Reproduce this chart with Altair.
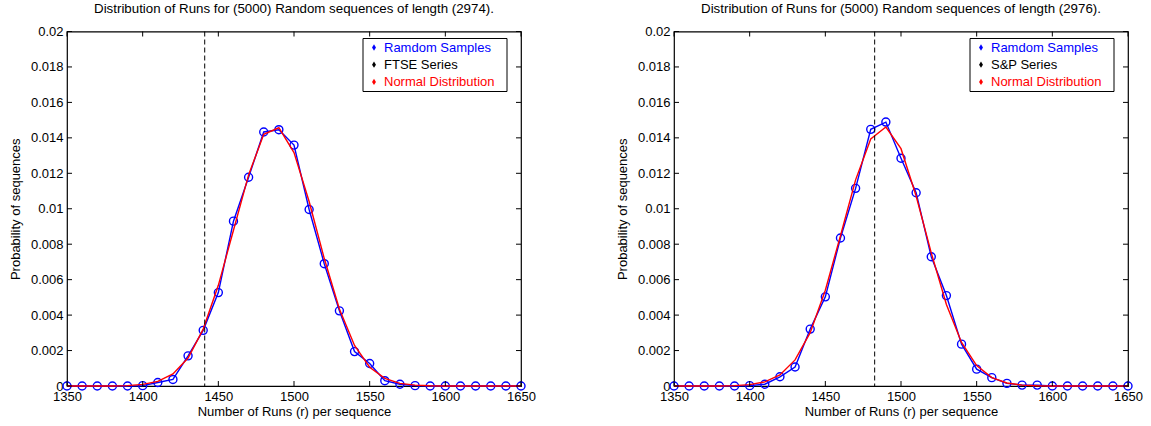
import altair as alt
import pandas as pd

# Run counts (r) at which the probabilities were tabulated
runs = [1350, 1360, 1370, 1380, 1390, 1400, 1410, 1420, 1430, 1440, 1450,
        1460, 1470, 1480, 1490, 1500, 1510, 1520, 1530, 1540, 1550,
        1560, 1570, 1580, 1590, 1600, 1610, 1620, 1630, 1640, 1650]

# FTSE panel: empirical probabilities of the random samples and the normal fit
ftse_samples = [0, 0, 0, 0, 0, 0.00002, 0.0002, 0.00037, 0.0017, 0.00314, 0.00527,
                0.0093, 0.01178, 0.01433, 0.01446, 0.01359, 0.00996, 0.0069, 0.00424, 0.00194, 0.00127,
                0.0003, 0.0001, 0.00002, 0, 0, 0, 0, 0, 0, 0]
ftse_normal = [0, 0, 0, 0, 0.00002, 0.00009, 0.00026, 0.00068, 0.00158, 0.00321, 0.00568,
               0.00879, 0.01191, 0.0142, 0.01457, 0.01317, 0.01041, 0.00719, 0.00434, 0.00229, 0.00106,
               0.00043, 0.00015, 0.00005, 0.00001, 0, 0, 0, 0, 0, 0]

# S&P panel
sp_samples = [0, 0, 0, 0, 0, 0.00002, 0.0001, 0.00052, 0.00107, 0.00321, 0.00503,
              0.00835, 0.01115, 0.01448, 0.01489, 0.01285, 0.0109, 0.00729, 0.0051, 0.00236, 0.00095,
              0.00047, 0.00015, 0.00005, 0.00005, 0, 0, 0, 0, 0, 0]
sp_normal = [0, 0, 0, 0, 0.00002, 0.00008, 0.00023, 0.00062, 0.00147, 0.00301, 0.0054,
             0.00848, 0.01163, 0.01394, 0.01461, 0.01339, 0.01072, 0.00751, 0.0046, 0.00246, 0.00115,
             0.00047, 0.00017, 0.00005, 0.00001, 0, 0, 0, 0, 0, 0]

# Observed number of runs in each market series
ftse_runs = 1441
sp_runs = 1482.6

x_ticks = [1350, 1400, 1450, 1500, 1550, 1600, 1650]
y_ticks = [0, 0.002, 0.004, 0.006, 0.008, 0.01, 0.012, 0.014, 0.016, 0.018, 0.02]

titles = ["Distribution of Runs for (5000) Random sequences of length (2974).",
          "Distribution of Runs for (5000) Random sequences of length (2976)."]
legend_colors = ["blue", "black", "red"]

FONT = "Liberation Sans"
W, H = 454, 354.5
DIAMOND = "M0,-1L0.62,0L0,1L-0.62,0Z"

x_scale = alt.Scale(domain=[1350, 1650], nice=False, zero=False)
y_scale = alt.Scale(domain=[0, 0.02], nice=False)
x_axis = alt.Axis(values=x_ticks, format="d", title="Number of Runs (r) per sequence")
y_axis = alt.Axis(values=y_ticks, format="~g", title="Probability of sequences")


def xenc(field):
    return alt.X(field, type="quantitative", scale=x_scale, axis=x_axis)


def yenc(field):
    return alt.Y(field, type="quantitative", scale=y_scale, axis=y_axis)


def panel(samples, normal, series_runs, series_label, title):
    df = pd.DataFrame({"r": runs, "p": samples, "n": normal})
    base = alt.Chart(df)

    sample_line = base.mark_line(color="blue", strokeWidth=1.4).encode(x=xenc("r"), y=yenc("p"))
    sample_pts = base.mark_point(shape="circle", filled=False, color="blue",
                                 size=64, strokeWidth=1.4, opacity=1).encode(x=xenc("r"), y=yenc("p"))
    normal_line = base.mark_line(color="red", strokeWidth=1.4).encode(x=xenc("r"), y=yenc("n"))

    marker = alt.Chart(pd.DataFrame({"r": [series_runs]})).mark_rule(
        color="black", strokeDash=[5, 3], strokeWidth=1).encode(x=xenc("r"))

    # inward tick marks on all four sides of the box
    xt = alt.Chart(pd.DataFrame({"r": x_ticks}))
    yt = alt.Chart(pd.DataFrame({"p": y_ticks}))
    ticks = [
        xt.mark_rule(color="black").encode(x=xenc("r"), y=alt.value(H - 5), y2=alt.value(H)),
        xt.mark_rule(color="black").encode(x=xenc("r"), y=alt.value(0), y2=alt.value(5)),
        yt.mark_rule(color="black").encode(y=yenc("p"), x=alt.value(0), x2=alt.value(5)),
        yt.mark_rule(color="black").encode(y=yenc("p"), x=alt.value(W - 5), x2=alt.value(W)),
    ]

    # legend box in the upper right corner
    labels = ["Ramdom Samples", series_label, "Normal Distribution"]
    one = alt.Chart(pd.DataFrame({"k": [0]}))
    lx0, lx1, ly0, ly1 = 296, 440, 7, 60
    legend = [one.mark_rect(fill="white", stroke="black", strokeWidth=1).encode(
        x=alt.value(lx0), x2=alt.value(lx1), y=alt.value(ly0), y2=alt.value(ly1))]
    for i, (lab, col) in enumerate(zip(labels, legend_colors)):
        yy = ly0 + 9 + 17.2 * i
        legend.append(one.mark_point(shape=DIAMOND, filled=True, color=col, size=40, opacity=1)
                      .encode(x=alt.value(lx0 + 11), y=alt.value(yy)))
        legend.append(one.mark_text(text=lab, color=col, font=FONT, fontSize=13,
                                    align="left", baseline="middle")
                      .encode(x=alt.value(lx0 + 21), y=alt.value(yy)))

    return alt.layer(sample_line, sample_pts, normal_line, marker, *ticks, *legend).properties(
        width=W, height=H,
        title=alt.Title(title, fontSize=13.3, fontWeight="normal", font=FONT, color="black", offset=10),
    )


left = panel(ftse_samples, ftse_normal, ftse_runs, "FTSE Series", titles[0])
right = panel(sp_samples, sp_normal, sp_runs, "S&P Series", titles[1])

chart = alt.hconcat(left, right, spacing=153, bounds="flush").properties(
    padding={"left": 8, "top": 1.5, "right": 0, "bottom": 0},
    background="white",
).configure_view(
    stroke="black", strokeWidth=1.2,
).configure_axis(
    labelFont=FONT, titleFont=FONT, labelFontSize=13, titleFontSize=13,
    labelColor="black", titleColor="black", titleFontWeight="normal",
    tickSize=0, domain=False, grid=False, labelFlush=False, labelPadding=4,
    labelOverlap=False,
).configure_axisX(titlePadding=2).configure_axisY(titlePadding=8)

chart.save("out.html", embed_options={"renderer": "svg", "actions": False})
